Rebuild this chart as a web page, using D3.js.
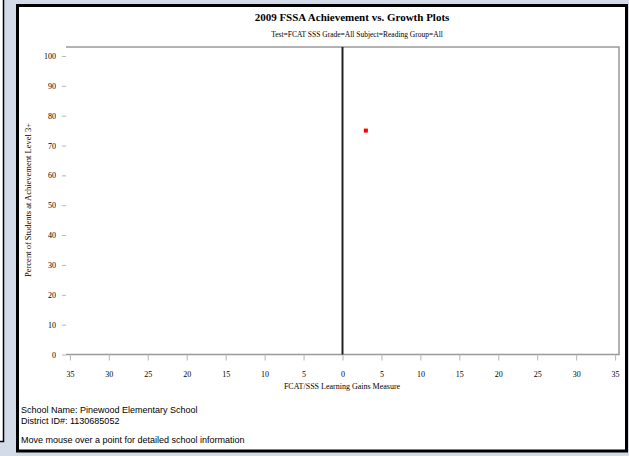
<!DOCTYPE html>
<html>
<head>
<meta charset="utf-8">
<script src="https://cdn.jsdelivr.net/npm/d3@7"></script>
<style>
  html, body { margin: 0; padding: 0; background: #d3dae8; }
  svg { display: block; }
  text { font-family: "Liberation Serif", "DejaVu Serif", serif; fill: #000; }
  text.sans { font-family: "Liberation Sans", Arial, sans-serif; }
</style>
</head>
<body>
<svg id="chart" width="629" height="456"></svg>
<script>
// ---- data ----
const title = "2009 FSSA Achievement vs. Growth Plots";
const subtitle = "Test=FCAT SSS Grade=All Subject=Reading Group=All";
const xTitle = "FCAT/SSS Learning Gains Measure";
const yTitle = "Percent of Students at Achievement Level 3+";
const footnotes = [
  "School Name: Pinewood Elementary School",
  "District ID#: 1130685052",
  "Move mouse over a point for detailed school information"
];
const xTickValues = [-35, -30, -25, -20, -15, -10, -5, 0, 5, 10, 15, 20, 25, 30, 35];
const yTickValues = [0, 10, 20, 30, 40, 50, 60, 70, 80, 90, 100];
const pointNames = ["School"];
const growthValues = [3];
const achievementValues = [75];

const svg = d3.select("#chart");

// page background & left strip
svg.append("rect").attr("x", 0).attr("y", 0).attr("width", 629).attr("height", 456).attr("fill", "#d3dae8");
svg.append("rect").attr("x", 0).attr("y", 0).attr("width", 3).attr("height", 441).attr("fill", "#fff");
svg.append("path").attr("d", "M3.5,0 V441.5 H0").attr("fill", "none").attr("stroke", "#000").attr("stroke-width", 1.5);

// chart box
svg.append("rect").attr("x", 17.5).attr("y", 5.5).attr("width", 609).attr("height", 445.5)
  .attr("fill", "#fff").attr("stroke", "#000").attr("stroke-width", 3);

const plot = { left: 66, right: 619, top: 47, bottom: 354.5 };
const x = d3.scaleLinear().domain([-35.5, 35.5]).range([plot.left, plot.right]);
const y = d3.scaleLinear().domain([0, 103]).range([plot.bottom, plot.top]);

// title
svg.append("text").attr("x", 352).attr("y", 21).attr("text-anchor", "middle")
  .attr("font-size", 11).attr("font-weight", "bold").text(title);
svg.append("text").attr("x", 357).attr("y", 37).attr("text-anchor", "middle")
  .attr("font-size", 7.5).text(subtitle);

// frame (top, right, bottom)
svg.append("path")
  .attr("d", `M${plot.left},${plot.top} H${plot.right} V${plot.bottom} H${plot.left}`)
  .attr("fill", "none").attr("stroke", "#9a9a9a").attr("stroke-width", 1.5);

// axes
const xAxis = svg.append("g").attr("transform", `translate(0,${plot.bottom})`)
  .call(d3.axisBottom(x).tickValues(xTickValues).tickSize(6).tickPadding(11)
    .tickFormat(d => Math.abs(d)));
xAxis.select(".domain").remove();
xAxis.selectAll(".tick line").attr("stroke", "#b5b5b5");
xAxis.selectAll("text").attr("font-size", 8).attr("font-family", "Liberation Serif, serif");

const yAxis = svg.append("g").attr("transform", `translate(${plot.left},0)`)
  .call(d3.axisLeft(y).tickValues(yTickValues).tickSize(4).tickPadding(6));
yAxis.select(".domain").remove();
yAxis.selectAll(".tick line").attr("stroke", "#b5b5b5");
yAxis.selectAll("text").attr("font-size", 8).attr("font-family", "Liberation Serif, serif");

// zero reference line
svg.append("line").attr("x1", x(0)).attr("x2", x(0)).attr("y1", plot.top).attr("y2", plot.bottom)
  .attr("stroke", "#222").attr("stroke-width", 2);

// axis titles
svg.append("text").attr("x", 342).attr("y", 389).attr("text-anchor", "middle")
  .attr("font-size", 8).text(xTitle);
svg.append("text").attr("transform", `translate(31,200) rotate(-90)`).attr("text-anchor", "middle")
  .attr("font-size", 8.5).text(yTitle);

// points
svg.append("g").selectAll("rect").data(pointNames).join("rect")
  .attr("x", (d, i) => x(growthValues[i]) - 2)
  .attr("y", (d, i) => y(achievementValues[i]) - 2)
  .attr("width", 4).attr("height", 4).attr("fill", "#ff0000");

// footnotes
const fy = [413, 423.5, 443];
svg.append("g").selectAll("text").data(footnotes).join("text")
  .attr("class", "sans")
  .attr("x", 21).attr("y", (d, i) => fy[i]).attr("font-size", 9).text(d => d);
</script>
</body>
</html>
